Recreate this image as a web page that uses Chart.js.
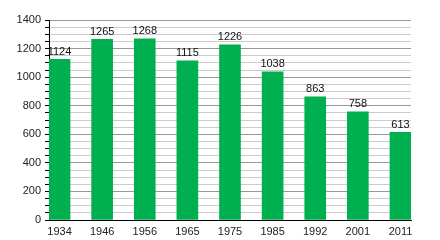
<!DOCTYPE html>
<html>
<head>
<meta charset="utf-8">
<script src="https://cdn.jsdelivr.net/npm/chart.js@4"></script>
<style>
  html, body { margin: 0; padding: 0; background: #fff; }
  #wrap { width: 440px; height: 240px; }
</style>
</head>
<body>
<div id="wrap"><canvas id="chart"></canvas></div>
<script>
// census years and population
const years = ['1934', '1946', '1956', '1965', '1975', '1985', '1992', '2001', '2011'];
const population = [1124, 1265, 1268, 1115, 1226, 1038, 863, 758, 613];
const yTicks = [0, 200, 400, 600, 800, 1000, 1200, 1400];

const barColor = '#00b050';
const fontFamily = '"Liberation Sans", Arial, Helvetica, sans-serif';

// value labels above the bars
const valueLabels = {
    id: 'valueLabels',
    afterDatasetsDraw(chart) {
        const ctx = chart.ctx;
        const meta = chart.getDatasetMeta(0);
        ctx.save();
        ctx.font = '11px ' + fontFamily;
        ctx.fillStyle = '#111';
        ctx.textAlign = 'center';
        ctx.textBaseline = 'bottom';
        meta.data.forEach((bar, i) => {
            ctx.fillText(String(population[i]), bar.x, bar.y - 2);
        });
        ctx.restore();
    }
};

new Chart(document.getElementById('chart'), {
    type: 'bar',
    data: {
        datasets: [{
            data: population.map((v, i) => ({ x: i, y: v })),
            backgroundColor: barColor,
            borderWidth: 0,
            barThickness: 21
        }]
    },
    options: {
        responsive: true,
        maintainAspectRatio: false,
        animation: false,
        layout: { padding: { top: 20, right: 29, left: 0, bottom: 0 } },
        plugins: {
            legend: { display: false },
            tooltip: { enabled: false }
        },
        scales: {
            x: {
                type: 'linear',
                offset: false,
                min: -0.247,
                max: 8.247,
                afterBuildTicks: (scale) => {
                    scale.ticks = years.map((_, i) => ({ value: i }));
                },
                afterFit: (scale) => { scale.height = 20; },
                grid: { display: false, drawTicks: false },
                border: { display: true, color: '#000', width: 1 },
                ticks: {
                    color: '#222',
                    font: { family: fontFamily, size: 11 },
                    padding: 5,
                    maxRotation: 0,
                    autoSkip: false,
                    callback: (v) => years[v]
                }
            },
            y: {
                min: 0,
                max: 1400,
                afterFit: (scale) => { scale.width = 49; },
                afterBuildTicks: (scale) => {
                    const t = [];
                    for (let v = 0; v <= 1400; v += 50) t.push({ value: v });
                    scale.ticks = t;
                },
                grid: {
                    color: (c) => (c.tick && c.tick.value % 200 === 0) ? '#999' : '#ccc',
                    tickColor: '#000',
                    tickLength: 4
                },
                border: { display: true, color: '#000', width: 1 },
                ticks: {
                    color: '#222',
                    font: { family: fontFamily, size: 11 },
                    padding: 4,
                    autoSkip: false,
                    callback: (v) => yTicks.includes(v) ? String(v) : ''
                }
            }
        }
    },
    plugins: [valueLabels]
});
</script>
</body>
</html>
